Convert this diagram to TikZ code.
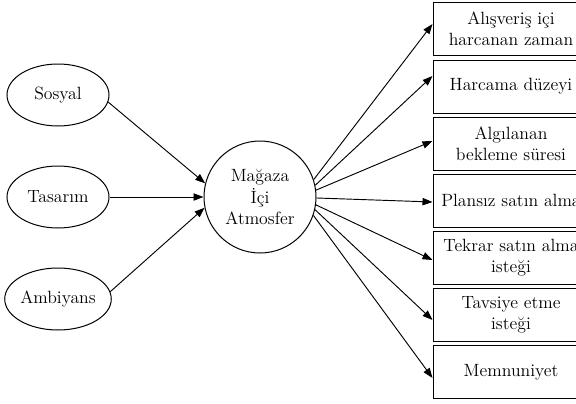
\documentclass[tikz,border=0pt]{standalone}
\usetikzlibrary{shapes.geometric,arrows.meta,calc}
\begin{document}
\begin{tikzpicture}[x=0.75pt,y=-0.75pt,
  every node/.style={font=\fontsize{13.3}{15.8}\selectfont, align=center},
  oval/.style={draw, line width=0.75pt, ellipse, minimum width=76.5pt, minimum height=46.5pt, inner sep=0pt},
  hub/.style={draw, line width=0.75pt, circle, minimum size=84pt, inner sep=0pt},
  outbox/.style={draw, line width=0.75pt, rectangle, minimum width=117pt, minimum height=39.75pt, inner sep=0pt},
  conn/.style={line width=0.7pt, -{Triangle[length=7.5pt,width=5.5pt]}}]
\useasboundingbox (0,0) rectangle (576,404);
\clip (0,0) rectangle (576,404);
% left ovals
\node[oval] (s) at (58,95) {Sosyal};
\node[oval] (t) at (58,197) {Tasarım};
\node[oval] (a) at (58,299) {Ambiyans};
% hub
\node[hub] (m) at (260,197) {Mağaza\\İçi\\Atmosfer};
% right boxes
\node[outbox] (b1) at (511,29) {Alışveriş içi\\harcanan zaman};
\node[outbox] (b2) at (511,86.5) {Harcama düzeyi};
\node[outbox] (b3) at (511,143.5) {Algılanan\\bekleme süresi};
\node[outbox] (b4) at (511,200.5) {Plansız satın alma};
\node[outbox] (b5) at (511,258) {Tekrar satın alma\\isteği};
\node[outbox] (b6) at (511,315) {Tavsiye etme\\isteği};
\node[outbox] (b7) at (511,372) {Memnuniyet};
% connectors in
\draw[conn] (s.-8) -- (m.166);
\draw[conn] (t.east) -- (m.west);
\draw[conn] (a.8) -- (m.191);
% connectors out
\draw[conn] (m.18) -- ($(b1.west)+(0,-5)$);
\draw[conn] (m.12) -- ($(b2.west)+(0,-10.5)$);
\draw[conn] (m.7) -- ($(b3.west)+(0,-2.5)$);
\draw[conn] (m.-1) -- ($(b4.west)+(0,1.5)$);
\draw[conn] (m.-8) -- ($(b5.west)+(0,2)$);
\draw[conn] (m.-13) -- ($(b6.west)+(0,5)$);
\draw[conn] (m.-19) -- ($(b7.west)+(0,6)$);
\end{tikzpicture}
\end{document}
